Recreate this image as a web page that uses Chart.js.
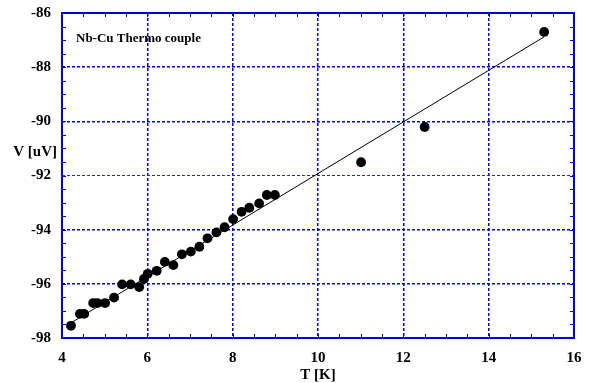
<!DOCTYPE html>
<html><head><meta charset="utf-8">
<script src="https://cdn.jsdelivr.net/npm/chart.js@4"></script>
<style>html,body{margin:0;padding:0;background:#fff}#wrap{width:589px;height:383px;position:relative}</style>
</head><body><div id="wrap"><canvas id="c" width="589" height="383"></canvas></div>
<script>
const temperatureK = [4.21,4.42,4.52,4.73,4.83,5.01,5.22,5.41,5.61,5.81,5.92,6.01,6.22,6.41,6.61,6.81,7.02,7.22,7.41,7.62,7.81,8.01,8.21,8.39,8.62,8.80,8.99,11.01,12.50,15.30];
const voltageUV = [-97.55,-97.11,-97.11,-96.71,-96.71,-96.71,-96.51,-96.02,-96.02,-96.12,-95.82,-95.63,-95.52,-95.19,-95.31,-94.91,-94.81,-94.63,-94.32,-94.10,-93.91,-93.61,-93.34,-93.19,-93.03,-92.72,-92.72,-91.51,-90.21,-86.70];
const fitT = [4.2, 15.3];
const fitV = [-97.45, -86.88];
const xTickValues = [4,6,8,10,12,14,16];
const yTickValues = [-98,-96,-94,-92,-90,-88,-86];
const xTitle = 'T [K]';
const yTitle = 'V [uV]';
const noteText = 'Nb-Cu Thermo couple';

const FONT = '"Liberation Serif", "Times New Roman", serif';
const BLUE = '#0000dd';

const framePlugin = {
  id: 'frame',
  beforeDatasetsDraw(chart) {
    const {ctx, chartArea: a, scales: {x, y}} = chart;
    ctx.save();
    ctx.strokeStyle = BLUE;
    ctx.lineWidth = 1;
    ctx.beginPath();
    for (let v = x.min; v <= x.max + 1e-9; v += 0.5) {
      const px = Math.round(x.getPixelForValue(v)) + 0.5;
      ctx.moveTo(px, a.bottom); ctx.lineTo(px, a.bottom - 4);
      ctx.moveTo(px, a.top); ctx.lineTo(px, a.top + 4);
    }
    for (let v = y.min; v <= y.max + 1e-9; v += 0.5) {
      const py = Math.round(y.getPixelForValue(v)) + 0.5;
      ctx.moveTo(a.left, py); ctx.lineTo(a.left + 4, py);
      ctx.moveTo(a.right, py); ctx.lineTo(a.right - 4, py);
    }
    ctx.stroke();
    ctx.lineWidth = 2;
    ctx.strokeRect(a.left, a.top, a.right - a.left, a.bottom - a.top);
    ctx.restore();
  },
  afterDraw(chart) {
    const {ctx, chartArea: a} = chart;
    ctx.save();
    ctx.fillStyle = '#000';
    ctx.font = 'bold 15px ' + FONT;
    ctx.textAlign = 'center';
    ctx.textBaseline = 'middle';
    ctx.fillText(xTitle, (a.left + a.right) / 2, 375);
    ctx.textAlign = 'right';
    ctx.fillText(yTitle, 57, 152);
    ctx.font = 'bold 13px ' + FONT;
    ctx.textAlign = 'left';
    ctx.textBaseline = 'alphabetic';
    ctx.fillText(noteText, 76, 42);
    ctx.restore();
  }
};

new Chart(document.getElementById('c'), {
  type: 'scatter',
  data: {
    datasets: [
      {
        data: temperatureK.map((t, i) => ({x: t, y: voltageUV[i]})),
        backgroundColor: '#000', borderColor: '#000',
        pointRadius: 4.9, pointHoverRadius: 4.9, borderWidth: 0,
        order: 1
      },
      {
        data: fitT.map((t, i) => ({x: t, y: fitV[i]})),
        showLine: true, borderColor: '#000', borderWidth: 1,
        pointRadius: 0, fill: false, order: 2
      }
    ]
  },
  options: {
    responsive: false, animation: false, devicePixelRatio: 1,
    layout: {padding: {left: 0, right: 15, top: 13, bottom: 0}},
    plugins: {legend: {display: false}, tooltip: {enabled: false}},
    scales: {
      x: {
        type: 'linear', min: 4, max: 16,
        afterBuildTicks: s => { s.ticks = xTickValues.map(v => ({value: v})); },
        afterFit: s => { s.height = 45; s.paddingLeft = 0; s.paddingRight = 0; },
        ticks: {color: '#000', font: {family: FONT, size: 15, weight: 'bold'}, padding: 11, maxRotation: 0},
        grid: {
          drawTicks: false,
          color: c => (c.tick && (c.tick.value === 4 || c.tick.value === 16)) ? 'rgba(0,0,0,0)' : BLUE,
          lineWidth: 1.5
        },
        border: {display: false, dash: [3, 2]},
        title: {display: false}
      },
      y: {
        type: 'linear', min: -98, max: -86,
        afterBuildTicks: s => { s.ticks = yTickValues.map(v => ({value: v})); },
        afterFit: s => { s.width = 62; s.paddingTop = 0; s.paddingBottom = 0; },
        ticks: {color: '#000', font: {family: FONT, size: 15, weight: 'bold'}, padding: 11},
        grid: {
          drawTicks: false,
          color: c => (c.tick && (c.tick.value === -98 || c.tick.value === -86)) ? 'rgba(0,0,0,0)' : (c.tick && c.tick.value === -92 ? '#2a2a9a' : BLUE),
          lineWidth: c => (c.tick && c.tick.value === -92) ? 1 : 1.5
        },
        border: {display: false, dash: [3, 2]},
        title: {display: false}
      }
    }
  },
  plugins: [framePlugin]
});
</script>
</body></html>
